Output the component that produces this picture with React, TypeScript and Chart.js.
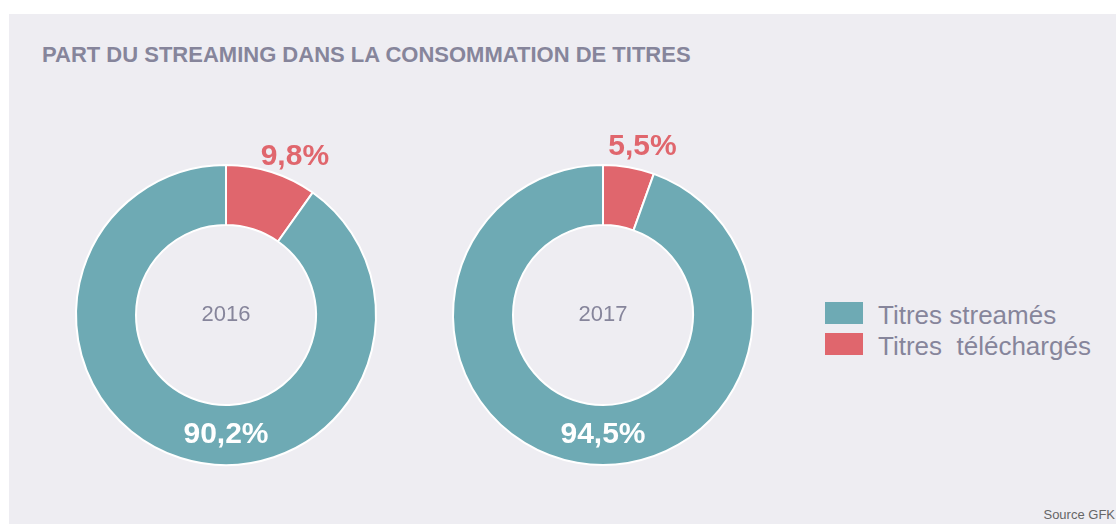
import React, { useEffect, useRef } from "react";
import { Chart, registerables } from "chart.js";

Chart.register(...registerables);

const TITLE = "PART DU STREAMING DANS LA CONSOMMATION DE TITRES";
const SERIES_LABELS = ["Titres  téléchargés", "Titres streamés"];
const YEARS = ["2016", "2017"];
const VALUES_2016 = [9.8, 90.2];
const VALUES_2017 = [5.5, 94.5];
const SOURCE = "Source GFK";

const TEAL = "#6eaab4";
const RED = "#e0666d";
const BG = "#eeedf2";
const GREY = "#86859b";

const fmt = (v: number) => v.toFixed(1).replace(".", ",") + "%";

const labelPlugin = {
  id: "donutLabels",
  afterDatasetsDraw(chart: any) {
    const ctx = chart.ctx;
    const meta = chart.getDatasetMeta(0);
    const values: number[] = chart.data.datasets[0].data;
    ctx.save();
    meta.data.forEach((arc: any, i: number) => {
      const p = arc.getProps(["x", "y", "startAngle", "endAngle", "innerRadius", "outerRadius"], true);
      const v = values[i];
      ctx.textAlign = "center";
      ctx.textBaseline = "middle";
      if (v < 50) {
        const mid = (p.startAngle + p.endAngle) / 2 + Math.PI / 2;
        const a = mid * 1.33;
        const r = p.outerRadius + 23;
        ctx.fillStyle = RED;
        ctx.font = "bold 30px 'Liberation Sans', Arial, sans-serif";
        ctx.fillText(fmt(v), p.x + r * Math.sin(a), p.y - r * Math.cos(a));
      } else {
        const r = (p.innerRadius + p.outerRadius) / 2;
        ctx.fillStyle = "#ffffff";
        ctx.font = "bold 30px 'Liberation Sans', Arial, sans-serif";
        ctx.fillText(fmt(v), p.x, p.y + r);
      }
    });
    const first = meta.data[0];
    if (first) {
      ctx.fillStyle = GREY;
      ctx.font = "22px 'Liberation Sans', Arial, sans-serif";
      ctx.textAlign = "center";
      ctx.textBaseline = "middle";
      ctx.fillText(chart.options.plugins.centerText.text, first.x, first.y);
    }
    ctx.restore();
  },
};

function Donut({ values, year, left }: { values: number[]; year: string; left: number }) {
  const ref = useRef<HTMLCanvasElement>(null);
  useEffect(() => {
    if (!ref.current) return;
    const chart = new Chart(ref.current, {
      type: "doughnut",
      data: {
        labels: SERIES_LABELS,
        datasets: [
          {
            data: values,
            backgroundColor: [RED, TEAL],
            borderColor: "#ffffff",
            borderWidth: 2,
          },
        ],
      },
      options: {
        animation: false,
        responsive: false,
        cutout: "60%",
        layout: { padding: 39 },
        plugins: {
          legend: { display: false },
          tooltip: { enabled: false },
          centerText: { text: year },
        } as any,
      },
      plugins: [labelPlugin],
    });
    return () => chart.destroy();
  }, [values, year]);
  return (
    <canvas
      ref={ref}
      width={380}
      height={380}
      style={{ position: "absolute", left, top: 111, width: 380, height: 380 }}
    />
  );
}

export default function App() {
  const font = "'Liberation Sans', Arial, sans-serif";
  const legendItems = [
    { label: SERIES_LABELS[1], color: TEAL },
    { label: SERIES_LABELS[0], color: RED },
  ];
  return (
    <div
      style={{
        position: "fixed",
        left: 9,
        top: 14,
        width: 1107,
        height: 510,
        background: BG,
        overflow: "hidden",
        fontFamily: font,
      }}
    >
      <div
        style={{
          position: "absolute",
          left: 33,
          top: 30,
          fontSize: 22,
          lineHeight: 1,
          fontWeight: "bold",
          color: GREY,
          whiteSpace: "nowrap",
        }}
      >
        {TITLE}
      </div>
      <Donut values={VALUES_2016} year={YEARS[0]} left={27} />
      <Donut values={VALUES_2017} year={YEARS[1]} left={404} />
      {legendItems.map((it, i) => (
        <React.Fragment key={i}>
          <div
            style={{
              position: "absolute",
              left: 816,
              top: 288 + i * 31,
              width: 38,
              height: 22,
              background: it.color,
            }}
          />
          <div
            style={{
              position: "absolute",
              left: 869,
              top: 288 + i * 31,
              fontSize: 26,
              lineHeight: 1,
              color: GREY,
              whiteSpace: "pre",
            }}
          >
            {it.label}
          </div>
        </React.Fragment>
      ))}
      <div
        style={{
          position: "absolute",
          right: 1,
          top: 494,
          fontSize: 13,
          lineHeight: 1,
          color: "#666",
          whiteSpace: "nowrap",
        }}
      >
        {SOURCE}
      </div>
    </div>
  );
}
